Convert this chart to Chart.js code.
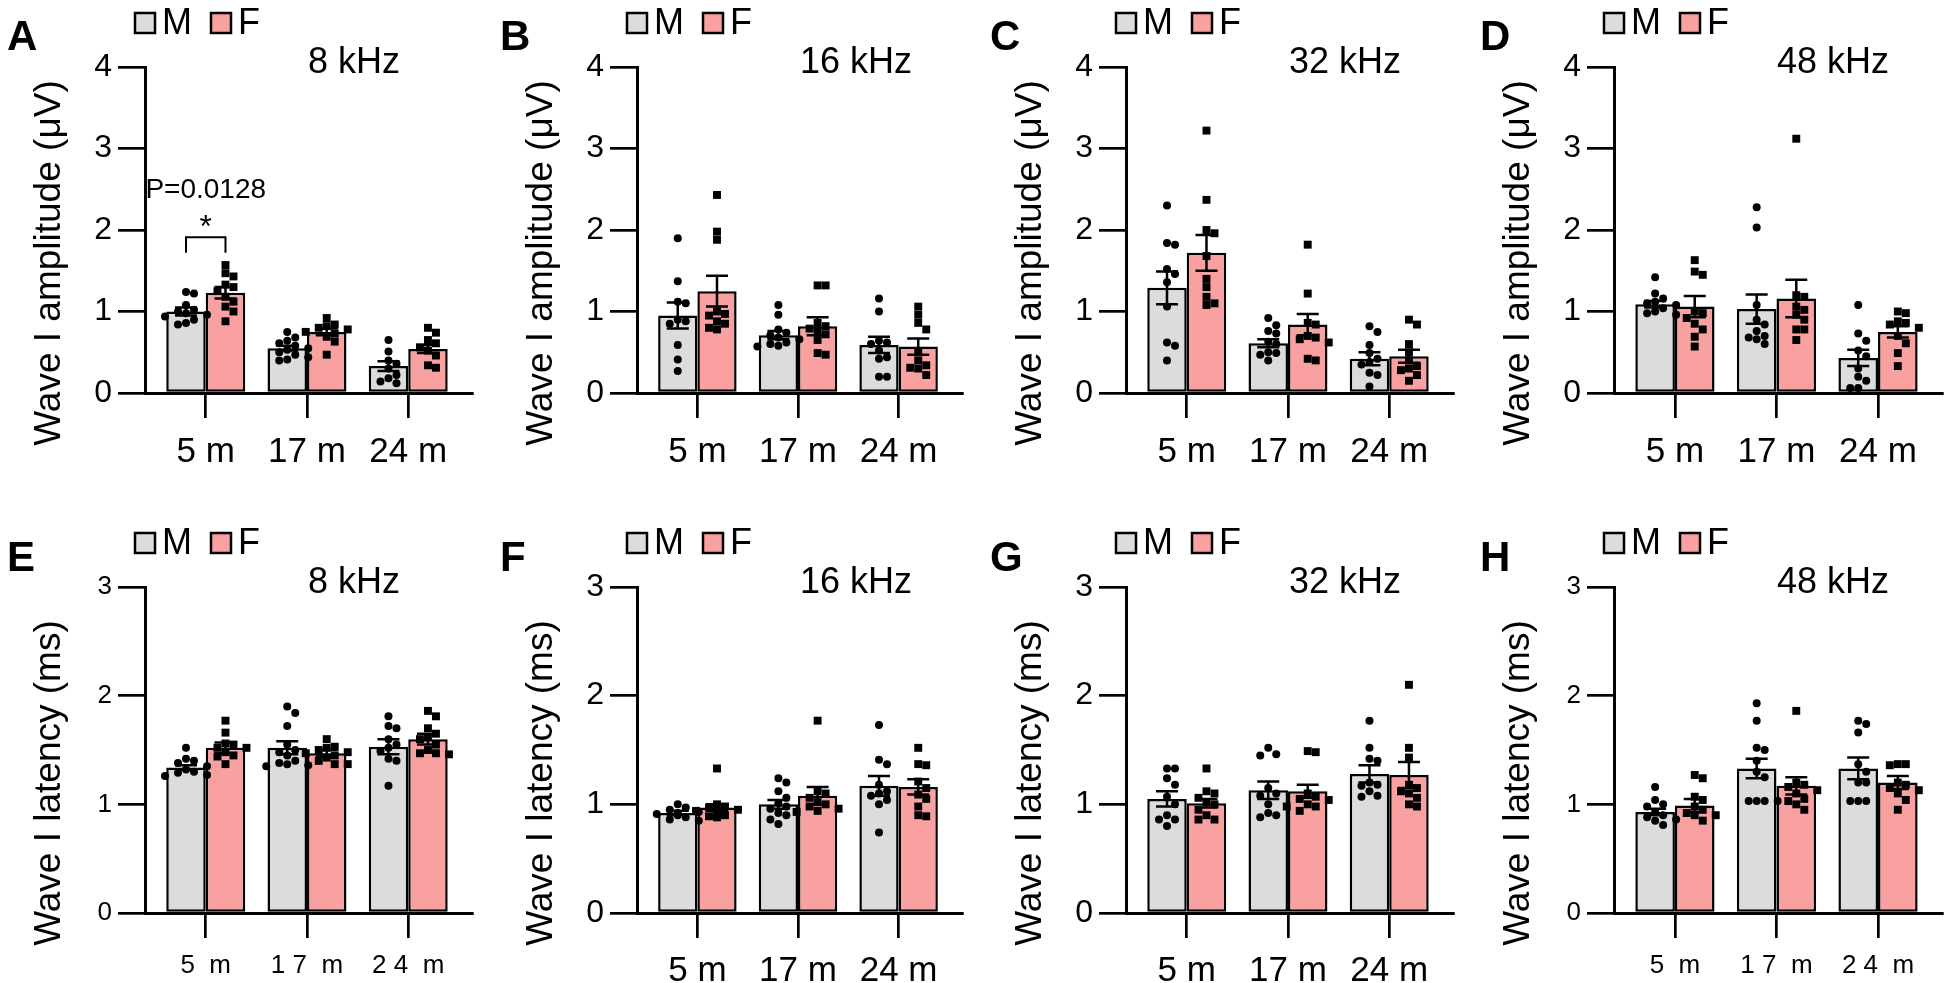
<!DOCTYPE html>
<html>
<head>
<meta charset="utf-8">
<script src="https://cdn.jsdelivr.net/npm/chart.js@4.4.1/dist/chart.umd.min.js"></script>
<style>
html, body { margin: 0; padding: 0; background: #fff; }
#fig { position: relative; width: 1950px; height: 983px; overflow: hidden; background: #fff; }
#fig canvas { position: absolute; }
</style>
</head>
<body>
<div id="fig"></div>
<script>
// categories / tick labels
const categories = ['5 m', '17 m', '24 m'];
const categoriesWide = ['5  m', '1 7  m', '2 4  m']; // E and H print them spaced out
const groups = ['M', 'F'];
const ampTicks = [0, 1, 2, 3, 4];
const latTicks = [0, 1, 2, 3];
const ampTitle = 'Wave I amplitude (μV)';
const latTitle = 'Wave I latency (ms)';
const freqs = ['8 kHz', '16 kHz', '32 kHz', '48 kHz'];

// A - amplitude 8 kHz
const meanM_A = [1.0, 0.55, 0.33];
const semM_A = [0.05, 0.03, 0.06];
const meanF_A = [1.23, 0.75, 0.54];
const semF_A = [0.07, 0.04, 0.05];
const ptsM_A = [[1.24, 1.22, 1.08, 1.02, 1.0, 0.98, 0.96, 0.94, 0.90, 0.86, 0.84], [0.75, 0.68, 0.64, 0.61, 0.58, 0.55, 0.53, 0.50, 0.47, 0.44, 0.41, 0.40], [0.65, 0.51, 0.40, 0.36, 0.30, 0.22, 0.18, 0.14, 0.12]];
const ptsF_A = [[1.57, 1.47, 1.43, 1.33, 1.30, 1.25, 1.18, 1.12, 1.06, 1.0, 0.88], [0.92, 0.84, 0.82, 0.80, 0.78, 0.75, 0.73, 0.69, 0.63, 0.47], [0.80, 0.74, 0.65, 0.61, 0.56, 0.52, 0.46, 0.34, 0.31]];
// significance in A
const sigText = 'P=0.0128';
const sigStar = '*';
const sigBracket = [1.91, 1.72];

// B - amplitude 16 kHz
const meanM_B = [0.95, 0.71, 0.59];
const semM_B = [0.16, 0.05, 0.10];
const meanF_B = [1.25, 0.82, 0.57];
const semF_B = [0.19, 0.11, 0.10];
const ptsM_B = [[1.9, 1.37, 1.12, 1.1, 0.9, 0.88, 0.85, 0.59, 0.41, 0.27], [1.08, 0.96, 0.78, 0.74, 0.71, 0.68, 0.66, 0.62, 0.6, 0.58, 0.57], [1.16, 1.0, 0.64, 0.62, 0.6, 0.52, 0.44, 0.42, 0.2, 0.2]];
const ptsF_B = [[2.43, 1.98, 1.88, 1.0, 0.97, 0.95, 0.88, 0.85, 0.8, 0.78], [1.32, 1.32, 0.86, 0.82, 0.79, 0.76, 0.72, 0.65, 0.49, 0.47], [1.06, 0.96, 0.86, 0.78, 0.5, 0.4, 0.34, 0.31, 0.3, 0.22]];

// C - amplitude 32 kHz
const meanM_C = [1.29, 0.61, 0.42];
const semM_C = [0.20, 0.05, 0.08];
const meanF_C = [1.72, 0.84, 0.45];
const semF_C = [0.22, 0.13, 0.08];
const ptsM_C = [[2.3, 1.84, 1.82, 1.52, 1.46, 1.36, 1.06, 0.62, 0.58, 0.4], [0.92, 0.83, 0.76, 0.73, 0.63, 0.6, 0.5, 0.49, 0.47, 0.4], [0.82, 0.75, 0.59, 0.49, 0.42, 0.38, 0.35, 0.25, 0.22, 0.08]];
const ptsF_C = [[3.22, 2.37, 2.0, 1.96, 1.68, 1.4, 1.3, 1.18, 1.1, 1.08], [1.82, 1.22, 0.86, 0.84, 0.7, 0.68, 0.66, 0.62, 0.42, 0.4], [0.9, 0.84, 0.6, 0.5, 0.4, 0.33, 0.3, 0.28, 0.22, 0.15]];

// D - amplitude 48 kHz
const meanM_D = [1.09, 1.03, 0.43];
const semM_D = [0.04, 0.18, 0.10];
const meanF_D = [1.06, 1.16, 0.75];
const semF_D = [0.13, 0.23, 0.07];
const ptsM_D = [[1.42, 1.22, 1.16, 1.12, 1.1, 1.08, 1.04, 1.0, 0.98, 0.96], [2.28, 2.03, 1.08, 0.9, 0.84, 0.76, 0.7, 0.68, 0.66, 0.6], [1.08, 0.73, 0.64, 0.52, 0.45, 0.3, 0.2, 0.15, 0.06, 0.06]];
const ptsF_D = [[1.63, 1.49, 1.45, 1.0, 0.98, 0.92, 0.85, 0.78, 0.69, 0.57], [3.12, 1.2, 1.18, 1.06, 1.02, 0.96, 0.9, 0.78, 0.78, 0.65], [1.0, 0.98, 0.88, 0.86, 0.84, 0.8, 0.7, 0.61, 0.49, 0.33]];

// E - latency 8 kHz
const meanM_E = [1.34, 1.52, 1.53];
const semM_E = [0.02, 0.06, 0.07];
const meanF_E = [1.52, 1.47, 1.60];
const semF_E = [0.05, 0.03, 0.05];
const ptsM_E = [[1.52, 1.42, 1.4, 1.38, 1.35, 1.32, 1.3, 1.29, 1.27, 1.26], [1.9, 1.84, 1.72, 1.55, 1.5, 1.48, 1.45, 1.4, 1.38, 1.37, 1.36, 1.35], [1.81, 1.72, 1.7, 1.6, 1.55, 1.52, 1.49, 1.42, 1.4, 1.17]];
const ptsF_E = [[1.77, 1.66, 1.56, 1.52, 1.55, 1.52, 1.48, 1.45, 1.44, 1.37], [1.6, 1.53, 1.52, 1.5, 1.48, 1.47, 1.45, 1.43, 1.4, 1.37, 1.37], [1.86, 1.81, 1.7, 1.65, 1.62, 1.6, 1.55, 1.5, 1.47, 1.47, 1.46]];

// F - latency 16 kHz
const meanM_F = [0.92, 1.0, 1.17];
const semM_F = [0.02, 0.04, 0.09];
const meanF_F = [0.97, 1.08, 1.16];
const semF_F = [0.03, 0.08, 0.07];
const ptsM_F = [[1.0, 0.97, 0.95, 0.93, 0.92, 0.91, 0.9, 0.88, 0.86, 0.85], [1.24, 1.2, 1.12, 1.06, 1.01, 0.98, 0.96, 0.92, 0.9, 0.86, 0.82], [1.73, 1.41, 1.37, 1.18, 1.12, 1.1, 1.08, 1.04, 1.0, 0.74]];
const ptsF_F = [[1.33, 1.0, 0.98, 0.97, 0.95, 0.94, 0.92, 0.9, 0.89, 0.88], [1.77, 1.12, 1.1, 1.06, 1.02, 1.0, 0.98, 0.96, 0.94, 0.93], [1.52, 1.37, 1.36, 1.21, 1.15, 1.09, 1.05, 0.98, 0.9, 0.89]];

// G - latency 32 kHz
const meanM_G = [1.05, 1.13, 1.28];
const semM_G = [0.07, 0.08, 0.08];
const meanF_G = [1.01, 1.12, 1.27];
const semF_G = [0.04, 0.06, 0.12];
const ptsM_G = [[1.33, 1.33, 1.24, 1.18, 1.07, 1.0, 0.9, 0.86, 0.86, 0.8], [1.52, 1.46, 1.45, 1.15, 1.1, 1.08, 1.0, 0.92, 0.9, 0.88], [1.77, 1.52, 1.42, 1.4, 1.2, 1.18, 1.17, 1.12, 1.08, 1.07]];
const ptsF_G = [[1.33, 1.12, 1.1, 1.06, 1.02, 1.0, 0.95, 0.9, 0.86, 0.86], [1.49, 1.48, 1.1, 1.07, 1.05, 1.04, 1.0, 0.98, 0.98, 0.94], [2.1, 1.52, 1.43, 1.18, 1.15, 1.12, 1.1, 1.06, 1.0, 0.98]];

// H - latency 48 kHz
const meanM_H = [0.93, 1.33, 1.33];
const semM_H = [0.03, 0.09, 0.10];
const meanF_H = [0.99, 1.17, 1.20];
const semF_H = [0.06, 0.08, 0.06];
const ptsM_H = [[1.16, 1.04, 1.0, 0.98, 0.93, 0.9, 0.88, 0.86, 0.85, 0.81], [1.93, 1.77, 1.52, 1.5, 1.4, 1.3, 1.25, 1.03, 1.03, 1.03, 1.03], [1.77, 1.74, 1.66, 1.37, 1.3, 1.2, 1.2, 1.03, 1.03, 1.03]];
const ptsF_H = [[1.27, 1.24, 1.07, 1.04, 0.98, 0.95, 0.92, 0.9, 0.9, 0.85], [1.86, 1.2, 1.18, 1.16, 1.13, 1.1, 1.05, 1.03, 1.0, 0.95], [1.37, 1.37, 1.36, 1.2, 1.18, 1.15, 1.13, 1.1, 1.04, 0.95]];

const colM = '#dcdcdc';
const colF = '#f9a1a1';
const FONT = '"Liberation Sans", Arial, Helvetica, sans-serif';

Chart.defaults.font.family = FONT;
Chart.defaults.color = '#000';

// page layout of the 4 columns and 2 rows
const cols = [
  { x: 0, w: 485, left: 145, right: 472, letterX: 7 },
  { x: 485, w: 490, left: 152, right: 477, letterX: 15 },
  { x: 975, w: 485, left: 151, right: 478, letterX: 15 },
  { x: 1460, w: 490, left: 154, right: 482, letterX: 20 }
];
const rows = [
  { y: 0, h: 491, top: 67, bottom: 393, ticks: ampTicks, title: ampTitle, letterY: 50, xPad: 13 },
  { y: 491, h: 492, top: 96, bottom: 422, ticks: latTicks, title: latTitle, letterY: 80, xPad: 12 }
];

const panels = [
  { letter: 'A', row: 0, col: 0, meanM: meanM_A, semM: semM_A, meanF: meanF_A, semF: semF_A, ptsM: ptsM_A, ptsF: ptsF_A, sig: true },
  { letter: 'B', row: 0, col: 1, meanM: meanM_B, semM: semM_B, meanF: meanF_B, semF: semF_B, ptsM: ptsM_B, ptsF: ptsF_B },
  { letter: 'C', row: 0, col: 2, meanM: meanM_C, semM: semM_C, meanF: meanF_C, semF: semF_C, ptsM: ptsM_C, ptsF: ptsF_C },
  { letter: 'D', row: 0, col: 3, meanM: meanM_D, semM: semM_D, meanF: meanF_D, semF: semF_D, ptsM: ptsM_D, ptsF: ptsF_D },
  { letter: 'E', row: 1, col: 0, meanM: meanM_E, semM: semM_E, meanF: meanF_E, semF: semF_E, ptsM: ptsM_E, ptsF: ptsF_E, small: true },
  { letter: 'F', row: 1, col: 1, meanM: meanM_F, semM: semM_F, meanF: meanF_F, semF: semF_F, ptsM: ptsM_F, ptsF: ptsF_F },
  { letter: 'G', row: 1, col: 2, meanM: meanM_G, semM: semM_G, meanF: meanF_G, semF: semF_G, ptsM: ptsM_G, ptsF: ptsF_G },
  { letter: 'H', row: 1, col: 3, meanM: meanM_H, semM: semM_H, meanF: meanF_H, semF: semF_H, ptsM: ptsM_H, ptsF: ptsF_H, small: true }
];

// error bars, legend, labels, significance
const decor = {
  id: 'decor',
  afterDatasetsDraw(chart, args, o) {
    const ctx = chart.ctx, ys = chart.scales.y;
    ctx.save();
    ctx.strokeStyle = '#000';
    ctx.lineWidth = 2.5;
    [0, 1].forEach(di => {
      const ds = chart.data.datasets[di];
      chart.getDatasetMeta(di).data.forEach((bar, j) => {
        const m = ds.data[j].y, e = ds.sem[j];
        const y1 = ys.getPixelForValue(m + e), y2 = ys.getPixelForValue(m - e);
        ctx.beginPath();
        ctx.moveTo(bar.x, y1); ctx.lineTo(bar.x, y2);
        ctx.moveTo(bar.x - 11, y1); ctx.lineTo(bar.x + 11, y1);
        ctx.moveTo(bar.x - 11, y2); ctx.lineTo(bar.x + 11, y2);
        ctx.stroke();
      });
    });
    ctx.restore();
  },
  afterDraw(chart, args, o) {
    const ctx = chart.ctx, area = chart.chartArea, ys = chart.scales.y;
    ctx.save();
    ctx.fillStyle = '#000';

    // panel letter
    ctx.font = 'bold 42px ' + FONT;
    ctx.textBaseline = 'alphabetic';
    ctx.textAlign = 'left';
    ctx.fillText(o.letter, o.letterX, o.letterY);

    // legend
    const lx = area.left - 10, ly = area.top - 44;
    ctx.lineWidth = 2.5;
    ctx.strokeStyle = '#000';
    [colM, colF].forEach((c, i) => {
      const bx = lx + i * 76;
      ctx.fillStyle = c;
      ctx.fillRect(bx, ly - 10, 20, 20);
      ctx.strokeRect(bx, ly - 10, 20, 20);
      ctx.fillStyle = '#000';
      ctx.font = '36px ' + FONT;
      ctx.textBaseline = 'middle';
      ctx.fillText(groups[i], bx + 27, ly + 1);
    });

    // frequency
    ctx.font = '36px ' + FONT;
    ctx.textBaseline = 'middle';
    ctx.fillText(o.freq, area.left + 163, area.top - 4);

    // y title
    ctx.save();
    ctx.translate(area.left - 95, (area.top + area.bottom) / 2 + 33);
    ctx.rotate(-Math.PI / 2);
    ctx.textAlign = 'center';
    ctx.font = '37px ' + FONT;
    ctx.fillText(o.title, 0, 0);
    ctx.restore();

    // significance bracket
    if (o.sig) {
      const a = chart.getDatasetMeta(0).data[0].x, b = chart.getDatasetMeta(1).data[0].x;
      const top = ys.getPixelForValue(sigBracket[0]), leg = ys.getPixelForValue(sigBracket[1]);
      ctx.lineWidth = 2;
      ctx.beginPath();
      ctx.moveTo(a, leg); ctx.lineTo(a, top); ctx.lineTo(b, top); ctx.lineTo(b, leg);
      ctx.stroke();
      const mid = (a + b) / 2;
      ctx.textAlign = 'center';
      ctx.font = '32px ' + FONT;
      ctx.textBaseline = 'alphabetic';
      ctx.fillText(sigStar, mid, ys.getPixelForValue(2.14) + 18);
      ctx.font = '28px ' + FONT;
      ctx.textBaseline = 'middle';
      ctx.fillText(sigText, mid, ys.getPixelForValue(2.49));
    }
    ctx.restore();
  }
};

// spread the dots sideways inside their bar (simple beeswarm)
function spreadPoints(chart) {
  const xs = chart.scales.x, ys = chart.scales.y;
  [0, 1].forEach(g => {
    const bars = chart.getDatasetMeta(g).data;
    const ds = chart.data.datasets[g + 2];
    const out = [];
    ds.raw.forEach((vals, j) => {
      const cx = bars[j].x;
      const placed = [];
      [...vals].sort((a, b) => b - a).forEach(v => {
        const py = ys.getPixelForValue(v);
        let best = 0;
        for (const dx of [0, 8, -8, 15, -15, 21, -21]) {
          if (placed.every(p => Math.abs(p.py - py) >= 8 || Math.abs(p.dx - dx) >= 8)) { best = dx; break; }
        }
        placed.push({ dx: best, py: py });
        out.push({ x: xs.getValueForPixel(cx + best), y: v });
      });
    });
    ds.data = out;
  });
  chart.update('none');
}

const fig = document.getElementById('fig');

panels.forEach((p, k) => {
  const c = cols[p.col], r = rows[p.row];
  const cv = document.createElement('canvas');
  cv.width = c.w; cv.height = r.h;
  cv.style.left = c.x + 'px';
  cv.style.top = r.y + 'px';
  fig.appendChild(cv);

  const xLabels = p.small ? categoriesWide : categories;
  const yFont = p.small ? 26 : 32;
  const xFont = p.small ? 26 : 35;

  const chart = new Chart(cv, {
    type: 'bar',
    data: {
      datasets: [
        { label: groups[0], data: p.meanM.map((v, j) => ({ x: j, y: v })), sem: p.semM, backgroundColor: colM, borderColor: '#000', borderWidth: 2.5, borderSkipped: false, categoryPercentage: 0.78, barPercentage: 1.0, order: 2 },
        { label: groups[1], data: p.meanF.map((v, j) => ({ x: j, y: v })), sem: p.semF, backgroundColor: colF, borderColor: '#000', borderWidth: 2.5, borderSkipped: false, categoryPercentage: 0.78, barPercentage: 1.0, order: 2 },
        { type: 'scatter', label: groups[0] + ' points', raw: p.ptsM, data: p.ptsM.flatMap((vals, j) => vals.map(v => ({ x: j, y: v }))), pointStyle: 'circle', pointRadius: 4, backgroundColor: '#000', borderWidth: 0, order: 1 },
        { type: 'scatter', label: groups[1] + ' points', raw: p.ptsF, data: p.ptsF.flatMap((vals, j) => vals.map(v => ({ x: j, y: v }))), pointStyle: 'rect', pointRadius: 5.6, backgroundColor: '#000', borderWidth: 0, order: 1 }
      ]
    },
    options: {
      responsive: false,
      animation: false,
      events: [],
      layout: { padding: { left: 0, top: r.top, right: c.w - c.right, bottom: 0 } },
      plugins: {
        legend: { display: false },
        tooltip: { enabled: false },
        decor: { letter: p.letter, letterX: c.letterX, letterY: r.letterY, freq: freqs[p.col], title: r.title, sig: !!p.sig }
      },
      scales: {
        x: {
          type: 'linear', min: -0.6, max: 2.63, offset: false,
          afterBuildTicks: s => { s.ticks = categories.map((_, i) => ({ value: i })); },
          afterFit: s => { s.height = r.h - r.bottom; },
          ticks: { callback: (v, i) => xLabels[i], font: { size: xFont }, padding: r.xPad, maxRotation: 0, autoSkip: false },
          grid: { display: true, drawOnChartArea: false, drawTicks: true, tickLength: 25, lineWidth: 2.7, color: '#000', offset: false },
          border: { display: true, color: '#000', width: 3 }
        },
        y: {
          min: 0, max: r.ticks[r.ticks.length - 1],
          afterBuildTicks: s => { s.ticks = r.ticks.map(v => ({ value: v })); },
          afterFit: s => { s.width = c.left; },
          ticks: { font: { size: yFont }, padding: 6 },
          grid: { display: true, drawOnChartArea: false, drawTicks: true, tickLength: 27, lineWidth: 2.7, color: '#000' },
          border: { display: true, color: '#000', width: 3 }
        }
      }
    },
    plugins: [decor]
  });
  spreadPoints(chart);
});
</script>
</body>
</html>
